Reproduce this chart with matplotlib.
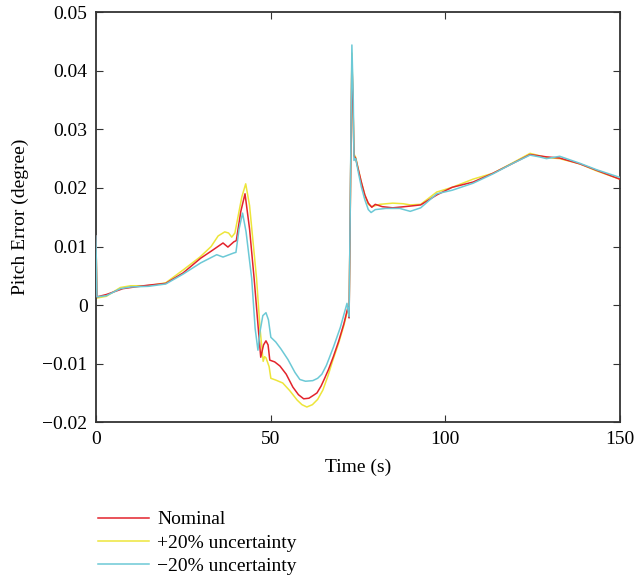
import numpy as np
import matplotlib.pyplot as plt

# nominal
t_nom = [0, 0.3, 3, 7.7, 10, 15, 20, 25, 30, 33, 36.4, 37.8, 39.5, 40.2, 41.5, 42.7, 44,
         45.3, 46.5, 47.2, 48, 48.7, 49.3, 49.8, 51.2, 52.7, 54.5, 56.4, 58, 59.5, 61,
         62.3, 63.3, 64.5, 65.5, 66.6, 68, 69.5, 71, 72.2,
         72.5, 72.9, 73.3, 73.6, 73.9, 74.4, 75.2, 76, 77, 78, 79, 80, 82, 85, 90, 93,
         97.6, 102, 108, 113.7, 119.4, 124.3, 129, 132.8, 138.6, 143.4, 150]
e_nom = [0.0118, 0.0014, 0.0018, 0.0028, 0.003, 0.0034, 0.0037, 0.0055, 0.008, 0.0092,
         0.0106, 0.0099, 0.0108, 0.011, 0.016, 0.019, 0.013, 0.0046, -0.004, -0.0089,
         -0.0068, -0.0061, -0.0068, -0.0094, -0.0097, -0.0104, -0.0118, -0.014, -0.0153,
         -0.016, -0.0159, -0.0154, -0.015, -0.0138, -0.0125, -0.011, -0.0088, -0.0062,
         -0.0032, -0.0003,
         -0.0022, 0.02, 0.042, 0.035, 0.0255, 0.025, 0.023, 0.021, 0.0188, 0.0174,
         0.0167, 0.0172, 0.0168, 0.0166, 0.0169, 0.0171, 0.0188, 0.0201, 0.021, 0.0225,
         0.0242, 0.0257, 0.0253, 0.0251, 0.0241, 0.023, 0.0215]

# +20%
t_plus = [0, 0.3, 3, 7, 10, 15, 20, 25, 29.8, 33, 35, 36.9, 38, 38.9, 39.8, 41.8, 42.9,
          44, 46, 47, 47.9, 48.3, 48.7, 49.6, 50.1, 51.5, 53.5, 55.5, 57.6, 59, 60.4, 62,
          63.5, 65, 66.5, 67.8, 69.5, 71, 72.2,
          72.5, 72.9, 73.3, 73.6, 73.9, 74.4, 75.2, 76, 77, 78, 79, 81.3, 85, 88, 90, 93,
          97.6, 102, 108, 113.7, 119.4, 124.3, 129, 132.8, 138.6, 143.4, 150]
e_plus = [0.0118, 0.0012, 0.0015, 0.003, 0.0033, 0.0033, 0.0038, 0.006, 0.0082, 0.01,
          0.0118, 0.0125, 0.0123, 0.0116, 0.0123, 0.0185, 0.0207, 0.017, 0.0046, -0.004,
          -0.0096, -0.0088, -0.009, -0.0105, -0.0125, -0.0128, -0.0133, -0.0146, -0.0162,
          -0.017, -0.0174, -0.017, -0.0161, -0.0145, -0.012, -0.0095, -0.0065, -0.0035,
          -0.0005,
          -0.0018, 0.02, 0.043, 0.035, 0.0258, 0.0252, 0.023, 0.021, 0.0188, 0.0172,
          0.0168, 0.0172, 0.0174, 0.0173, 0.0171, 0.0172, 0.0193, 0.0201, 0.0215, 0.0225,
          0.0243, 0.0259, 0.0252, 0.025, 0.0241, 0.0229, 0.0215]

# -20%
t_minus = [0, 0.3, 3, 7, 10, 15, 20, 25, 30, 34.6, 36.4, 39.5, 40.1, 41, 42, 43, 44.6,
           45.6, 46.4, 47, 47.8, 48.7, 49.4, 50.1, 51.5, 53, 55, 57, 58.4, 60, 62.1, 63.5,
           64.7, 66, 68, 70, 71.9,
           72.5, 72.8, 73.3, 73.7, 73.9, 74.4, 75.2, 76, 77, 78, 78.8, 80, 83, 87, 90, 93,
           97.6, 102, 108, 113.7, 119.4, 124.3, 127, 129, 132.8, 138.6, 143.4, 150]
e_minus = [0.0118, 0.0014, 0.0016, 0.0028, 0.0031, 0.0032, 0.0036, 0.0053, 0.0072,
           0.0086, 0.0082, 0.0089, 0.009, 0.013, 0.0157, 0.0125, 0.0046, -0.004, -0.0077,
           -0.0045, -0.0018, -0.0013, -0.0025, -0.0055, -0.0063, -0.0075, -0.0093, -0.0115,
           -0.0127, -0.013, -0.0129, -0.0125, -0.0118, -0.0103, -0.0072, -0.0038, 0.0003,
           -0.002, 0.015, 0.0444, 0.035, 0.0247, 0.025, 0.0225, 0.0202, 0.018, 0.0163,
           0.0158, 0.0163, 0.0165, 0.0165, 0.016, 0.0166, 0.019, 0.0196, 0.0208, 0.0224,
           0.0242, 0.0256, 0.0253, 0.025, 0.0254, 0.0242, 0.0231, 0.0218]

plt.rcParams['font.family'] = ['Liberation Serif', 'DejaVu Serif']
plt.rcParams['font.size'] = 14

fig = plt.figure(figsize=(6.35, 5.8), dpi=100)
ax = fig.add_axes([0.151, 0.272, 0.825, 0.707])

ax.plot(t_plus, e_plus, color='#ede53a', lw=1.1, label='+20% uncertainty', zorder=2)
ax.plot(t_nom, e_nom, color='#e3232c', lw=1.1, label='Nominal', zorder=3)
ax.plot(t_minus, e_minus, color='#6cc9d6', lw=1.1, label='\u221220% uncertainty', zorder=4)

ax.set_xlim(0, 150)
ax.set_ylim(-0.02, 0.05)
ax.set_xticks([0, 50, 100, 150])
ax.set_yticks([-0.02, -0.01, 0, 0.01, 0.02, 0.03, 0.04, 0.05])
ax.set_yticklabels(['\u22120.02', '\u22120.01', '0', '0.01', '0.02', '0.03', '0.04', '0.05'])
ax.tick_params(direction='in', top=True, right=True, length=5, color='#333333',
               labelsize=14, pad=6)
for s in ax.spines.values():
    s.set_color('#333333')
    s.set_linewidth(1.3)
ax.set_xlabel('Time (s)', fontsize=14, labelpad=8)
ax.set_ylabel('Pitch Error (degree)', fontsize=14, labelpad=10)

h, l = ax.get_legend_handles_labels()
order = [1, 0, 2]
fig.legend([h[i] for i in order], [l[i] for i in order], loc='lower left',
           bbox_to_anchor=(0.127, -0.022), frameon=False, fontsize=14,
           handlelength=2.6, handletextpad=0.45, labelspacing=0.3)

fig.savefig('out.png', dpi=100)
